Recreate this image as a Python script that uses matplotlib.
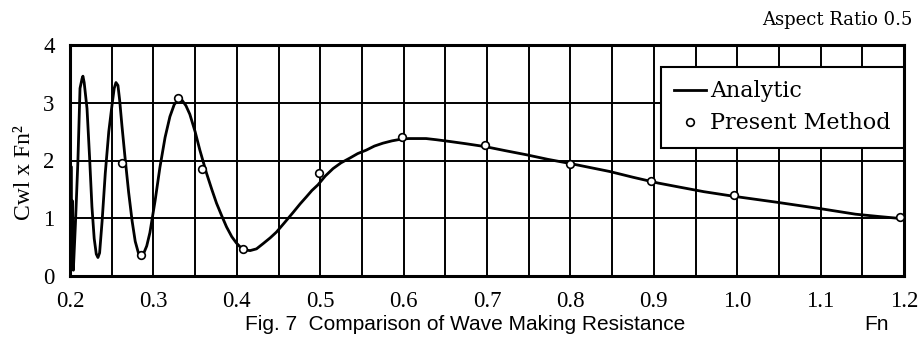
import numpy as np
import matplotlib
matplotlib.use("Agg")
import matplotlib.pyplot as plt
from matplotlib.ticker import MultipleLocator

# analytic curve
analytic_fn = [0.2000, 0.2012, 0.2022, 0.2030, 0.2040, 0.2065, 0.2095,
               0.2120, 0.2145, 0.2155, 0.2170, 0.2204, 0.2235, 0.2263, 0.2290,
               0.2315, 0.2335, 0.2355, 0.2385, 0.2423, 0.2465, 0.2503, 0.2530,
               0.2551, 0.2575, 0.2595, 0.2623, 0.2660, 0.2703, 0.2745, 0.2782,
               0.2820, 0.2850, 0.2880, 0.2920, 0.2958, 0.3020, 0.3078, 0.3140,
               0.3198, 0.3250, 0.3300, 0.3340, 0.3390, 0.3437, 0.3500, 0.3557,
               0.3637, 0.3700, 0.3757, 0.3820, 0.3877, 0.3940, 0.3996, 0.4050,
               0.4100, 0.4160, 0.4236, 0.4315, 0.4400, 0.4475, 0.4570, 0.4675,
               0.4760, 0.4834, 0.4900, 0.4974, 0.5060, 0.5154, 0.5250, 0.5353,
               0.5450, 0.5553, 0.5650, 0.5752, 0.5860, 0.5972, 0.6060, 0.6152,
               0.6270, 0.6391, 0.6551, 0.6750, 0.6980, 0.7220, 0.7470, 0.7730,
               0.7990, 0.8230, 0.8470, 0.8750, 0.9050, 0.9305, 0.9600, 0.9960,
               1.0460, 1.0980, 1.1420, 1.1700, 1.2000]
analytic_cw = [0.00, 1.90, 0.50, 1.30, 0.10, 0.90, 2.00,
               3.25, 3.42, 3.46, 3.35, 2.90, 2.05, 1.20, 0.65,
               0.38, 0.32, 0.40, 0.95, 1.78, 2.50, 2.95, 3.25,
               3.35, 3.30, 3.05, 2.60, 2.05, 1.45, 0.95, 0.60,
               0.40, 0.33, 0.38, 0.52, 0.75, 1.30, 1.88, 2.40,
               2.76, 2.97, 3.06, 3.05, 2.95, 2.80, 2.50, 2.18,
               1.78, 1.50, 1.26, 1.04, 0.85, 0.68, 0.57, 0.49,
               0.45, 0.44, 0.47, 0.56, 0.66, 0.76, 0.92, 1.10,
               1.25, 1.37, 1.48, 1.58, 1.73, 1.86, 1.96, 2.04,
               2.12, 2.18, 2.25, 2.30, 2.34, 2.37, 2.38, 2.38,
               2.38, 2.36, 2.33, 2.29, 2.24, 2.17, 2.10, 2.02,
               1.95, 1.88, 1.81, 1.71, 1.61, 1.54, 1.46, 1.38,
               1.28, 1.17, 1.07, 1.03, 0.99]

# present method points
present_fn = [0.262, 0.285, 0.330, 0.358, 0.408, 0.498, 0.598, 0.698, 0.799, 0.897, 0.996, 1.195]
present_cw = [1.95, 0.36, 3.08, 1.86, 0.47, 1.79, 2.41, 2.26, 1.94, 1.64, 1.40, 1.03]

xticks = [0.2, 0.3, 0.4, 0.5, 0.6, 0.7, 0.8, 0.9, 1.0, 1.1, 1.2]
xticklabels = ["0.2", "0.3", "0.4", "0.5", "0.6", "0.7", "0.8", "0.9", "1.0", "1.1", "1.2"]
yticks = [0, 1, 2, 3, 4]

W, H = 919, 351
fig = plt.figure(figsize=(W / 100, H / 100), dpi=100)
ax = fig.add_axes([70 / W, 1 - 276 / H, (904 - 70) / W, (276 - 45) / H])

ax.plot(analytic_fn, analytic_cw, color="black", lw=2.0, label="Analytic", zorder=3)
ax.plot(present_fn, present_cw, "o", color="black", mfc="white", mec="black",
        ms=5.5, mew=1.2, label="Present Method", zorder=4, clip_on=False)

ax.set_xlim(0.2, 1.2)
ax.set_ylim(0, 4)
ax.set_xticks(xticks)
ax.set_xticklabels(xticklabels)
ax.set_yticks(yticks)
ax.xaxis.set_minor_locator(MultipleLocator(0.05))
ax.grid(True, which="both", axis="x", color="black", lw=1.4)
ax.grid(True, which="major", axis="y", color="black", lw=1.4)
ax.set_axisbelow(True)
ax.tick_params(which="both", length=0)
ax.tick_params(axis="x", pad=11)
ax.tick_params(axis="y", pad=11)
for lab in ax.get_xticklabels() + ax.get_yticklabels():
    lab.set_fontfamily("Liberation Serif")
    lab.set_fontsize(16.5)
for sp in ax.spines.values():
    sp.set_linewidth(2.2)

leg = ax.legend(loc="upper right", bbox_to_anchor=(1.0, 0.905), borderaxespad=0,
                fancybox=False, framealpha=1, edgecolor="black",
                prop={"family": "DejaVu Serif", "size": 16},
                handlelength=1.4, handletextpad=0.2, borderpad=0.6, labelspacing=0.45)
leg.get_frame().set_linewidth(1.5)

fig.text(25 / W, 1 - 173 / H, "Cwl x Fn²", rotation=90, ha="center", va="center",
         family="Liberation Serif", fontsize=17)
fig.text(912 / W, 1 - 20 / H, "Aspect Ratio 0.5", ha="right", va="center",
         family="DejaVu Serif", fontsize=13)
fig.text(465 / W, 1 - 325 / H, "Fig. 7  Comparison of Wave Making Resistance",
         ha="center", va="center", family="Liberation Sans", fontsize=15)
fig.text(877 / W, 1 - 325 / H, "Fn", ha="center", va="center",
         family="Liberation Sans", fontsize=15)

fig.savefig("out.png", dpi=100)
